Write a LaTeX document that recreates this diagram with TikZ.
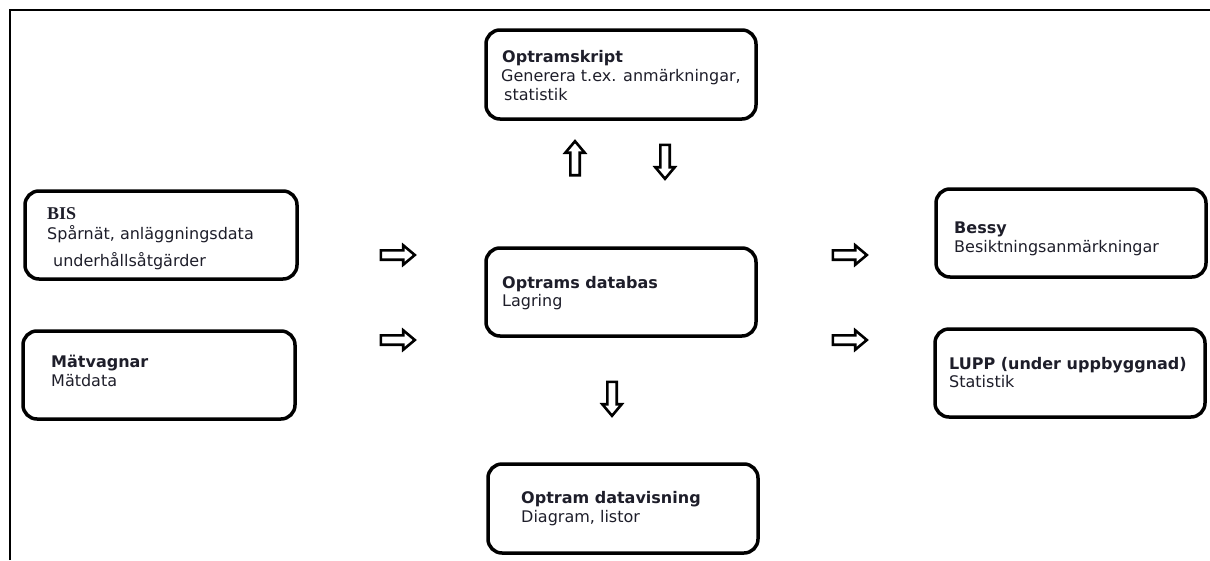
\documentclass[tikz,border=0pt]{standalone}
\usepackage{fontspec}
\setmainfont{DejaVu Sans}
\newfontfamily\serifbold{Liberation Serif}
\usetikzlibrary{shapes.arrows}
\definecolor{txt}{HTML}{1E1E2A}
\tikzset{
  box/.style={draw, line width=3.5pt, rounded corners=14pt},
  lbl/.style={anchor=base west, inner sep=0pt, text=txt, font=\fontsize{16}{18}\selectfont},
  ttl/.style={lbl, font=\fontsize{16}{18}\selectfont\bfseries},
  barrow/.style={draw, line width=2.6pt, single arrow, single arrow head extend=5pt,
    single arrow tip angle=80, minimum height=34pt, inner sep=3.4pt, anchor=center}
}
\begin{document}
\begin{tikzpicture}[x=1pt,y=-1pt]
\useasboundingbox (0,0) rectangle (1210,560);
\draw[line width=1.5pt] (10,560) -- (10,10) -- (1210,10);
% boxes
\draw[box] (486,30) rectangle (756,119) node[pos=0.5,inner sep=0](skript){};
\draw[box] (25,191) rectangle (297,279) node[pos=0.5,inner sep=0](bis){};
\draw[box] (23,331) rectangle (295,419) node[pos=0.5,inner sep=0](matv){};
\draw[box] (486,248) rectangle (756,336) node[pos=0.5,inner sep=0](db){};
\draw[box] (488,464) rectangle (758,553) node[pos=0.5,inner sep=0](vis){};
\draw[box] (936,189) rectangle (1206,277) node[pos=0.5,inner sep=0](bessy){};
\draw[box] (935,329) rectangle (1205,417) node[pos=0.5,inner sep=0](lupp){};
% texts
\node[ttl] (t1) at (502,62) {Optramskript};
\node[lbl] (t1b) at (501,81) {Generera t.ex. anmärkningar,};
\node[lbl] (t1c) at (504,100) {statistik};
\node[lbl, font=\fontsize{18}{20}\selectfont\serifbold\bfseries] (t2) at (47,219) {BIS};
\node[lbl] (t2b) at (47,239) {Spårnät, anläggningsdata};
\node[lbl] (t2c) at (53,266) {underhållsåtgärder};
\node[ttl] (t3) at (51,367) {Mätvagnar};
\node[lbl] (t3b) at (51,386) {Mätdata};
\node[ttl] (t4) at (502,288) {Optrams databas};
\node[lbl] (t4b) at (502,306) {Lagring};
\node[ttl] (t5) at (521,503) {Optram datavisning};
\node[lbl] (t5b) at (521,522) {Diagram, listor};
\node[ttl] (t6) at (954,233) {Bessy};
\node[lbl] (t6b) at (954,252) {Besiktningsanmärkningar};
\node[ttl] (t7) at (949,369) {LUPP (under uppbyggnad)};
\node[lbl] (t7b) at (949,387) {Statistik};
% block arrows
\node[barrow] (a1) at (395,255) {};
\node[barrow] (a2) at (395,340) {};
\node[barrow] (a3) at (847,255) {};
\node[barrow] (a4) at (847,340) {};
\node[barrow, shape border rotate=90] (a5) at (575,161) {};
\node[barrow, shape border rotate=270] (a6) at (665,159) {};
\node[barrow, shape border rotate=270] (a7) at (612,396) {};
\end{tikzpicture}
\end{document}
